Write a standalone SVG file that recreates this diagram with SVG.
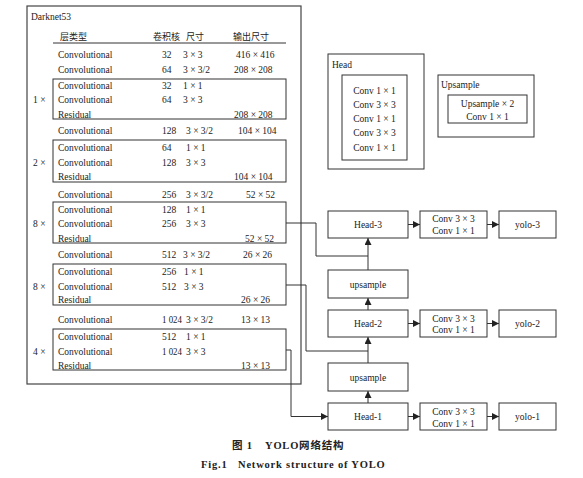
<svg xmlns="http://www.w3.org/2000/svg" width="583" height="478" viewBox="0 0 583 478">
<defs>
<marker id="arr" markerWidth="7" markerHeight="7" refX="7" refY="3.5" orient="auto" markerUnits="userSpaceOnUse"><path d="M0,0 L7,3.5 L0,7 z" fill="#222"/></marker>
<style>
text{font-family:"Liberation Serif","Noto Sans CJK SC",serif;font-size:9.5px;fill:#222;}
.c{text-anchor:middle;}
.zh{font-family:"Noto Sans CJK SC",sans-serif;font-size:9px;}
.box{fill:#fff;stroke:#333;stroke-width:1;}
.blk{fill:none;stroke:#333;stroke-width:1;}
.ln{fill:none;stroke:#333;stroke-width:1;}
.cap{font-weight:bold;font-size:10.5px;letter-spacing:0.8px;}
</style>
</defs>
<rect width="583" height="478" fill="#fff"/>

<g id="darknet53">
<rect x="27" y="6" width="274" height="378" fill="none" stroke="#444" stroke-width="1.2"/>
<text x="31" y="19.5">Darknet53</text>
<text class="zh" x="60" y="39.5">层类型</text>
<text class="zh" x="153" y="39.5">卷积核</text>
<text class="zh" x="186" y="39.5">尺寸</text>
<text class="zh" x="233" y="39.5">输出尺寸</text>
<line x1="53" y1="43" x2="286" y2="43" class="ln"/>

<text x="58" y="57.5">Convolutional</text><text x="162" y="57.5">32</text><text x="183" y="57.5">3 × 3</text><text x="236" y="57.5">416 × 416</text>
<text x="58" y="72.5">Convolutional</text><text x="162" y="72.5">64</text><text x="183" y="72.5">3 × 3/2</text><text x="234" y="72.5">208 × 208</text>

<rect class="blk" x="53" y="79" width="233" height="40"/>
<text x="33" y="102.5">1 ×</text>
<text x="58" y="88.5">Convolutional</text><text x="162" y="88.5">32</text><text x="183" y="88.5">1 × 1</text>
<text x="58" y="102.5">Convolutional</text><text x="162" y="102.5">64</text><text x="183" y="102.5">3 × 3</text>
<text x="58" y="117.5">Residual</text><text x="234" y="117.5">208 × 208</text>

<text x="58" y="133.5">Convolutional</text><text x="162" y="133.5">128</text><text x="186" y="133.5">3 × 3/2</text><text x="238" y="133.5">104 × 104</text>

<rect class="blk" x="53" y="140" width="233" height="42"/>
<text x="33" y="165.5">2 ×</text>
<text x="58" y="150.5">Convolutional</text><text x="162" y="150.5">64</text><text x="186" y="150.5">1 × 1</text>
<text x="58" y="165.5">Convolutional</text><text x="162" y="165.5">128</text><text x="186" y="165.5">3 × 3</text>
<text x="58" y="179.5">Residual</text><text x="234" y="179.5">104 × 104</text>

<text x="58" y="197.5">Convolutional</text><text x="162" y="197.5">256</text><text x="186" y="197.5">3 × 3/2</text><text x="246" y="197.5">52 × 52</text>

<rect class="blk" x="53" y="202" width="233" height="41"/>
<text x="33" y="226.5">8 ×</text>
<text x="58" y="212.5">Convolutional</text><text x="162" y="212.5">128</text><text x="186" y="212.5">1 × 1</text>
<text x="58" y="226.5">Convolutional</text><text x="162" y="226.5">256</text><text x="186" y="226.5">3 × 3</text>
<text x="58" y="241.5">Residual</text><text x="245" y="241.5">52 × 52</text>

<text x="58" y="257.5">Convolutional</text><text x="162" y="257.5">512</text><text x="183" y="257.5">3 × 3/2</text><text x="243" y="257.5">26 × 26</text>

<rect class="blk" x="53" y="264" width="233" height="41"/>
<text x="33" y="289.5">8 ×</text>
<text x="58" y="274.5">Convolutional</text><text x="162" y="274.5">256</text><text x="184" y="274.5">1 × 1</text>
<text x="58" y="289.5">Convolutional</text><text x="162" y="289.5">512</text><text x="184" y="289.5">3 × 3</text>
<text x="58" y="302.5">Residual</text><text x="241" y="302.5">26 × 26</text>

<text x="58" y="322.5">Convolutional</text><text x="162" y="322.5" textLength="20" lengthAdjust="spacingAndGlyphs">1 024</text><text x="186" y="322.5">3 × 3/2</text><text x="241" y="322.5">13 × 13</text>

<rect class="blk" x="53" y="329" width="233" height="41"/>
<text x="33" y="354.5">4 ×</text>
<text x="58" y="339.5">Convolutional</text><text x="162" y="339.5">512</text><text x="186" y="339.5">1 × 1</text>
<text x="58" y="354.5">Convolutional</text><text x="162" y="354.5" textLength="20" lengthAdjust="spacingAndGlyphs">1 024</text><text x="186" y="354.5">3 × 3</text>
<text x="58" y="368.5">Residual</text><text x="241" y="368.5">13 × 13</text>
</g>

<g id="legend-head">
<rect class="box" x="328" y="54" width="96" height="115"/>
<text x="332" y="67.5">Head</text>
<rect class="box" x="342" y="75" width="65" height="85"/>
<text class="c" x="374.5" y="93.5">Conv 1 × 1</text>
<text class="c" x="374.5" y="107.5">Conv 3 × 3</text>
<text class="c" x="374.5" y="122">Conv 1 × 1</text>
<text class="c" x="374.5" y="136">Conv 3 × 3</text>
<text class="c" x="374.5" y="150.5">Conv 1 × 1</text>
</g>

<g id="legend-upsample">
<rect class="box" x="438" y="75" width="96" height="62"/>
<text x="441" y="87.5">Upsample</text>
<rect class="box" x="448" y="95" width="79" height="28"/>
<text class="c" x="487.5" y="106.5">Upsample  × 2</text>
<text class="c" x="487.5" y="119.5">Conv 1 × 1</text>
</g>

<g id="connectors">
<polyline class="ln" points="286,223 316,223 316,256 368,256"/>
<polyline class="ln" points="286,285 306,285 306,351 368,351"/>
<polyline class="ln" points="286,350 291,350 291,416.5 328,416.5" marker-end="url(#arr)"/>
<line class="ln" x1="368" y1="270" x2="368" y2="238" marker-end="url(#arr)"/>
<line class="ln" x1="368" y1="310" x2="368" y2="298" marker-end="url(#arr)"/>
<line class="ln" x1="368" y1="363" x2="368" y2="337" marker-end="url(#arr)"/>
<line class="ln" x1="368" y1="403" x2="368" y2="391" marker-end="url(#arr)"/>
<line class="ln" x1="408" y1="224.5" x2="420" y2="224.5" marker-end="url(#arr)"/>
<line class="ln" x1="487" y1="224.5" x2="499" y2="224.5" marker-end="url(#arr)"/>
<line class="ln" x1="408" y1="323.5" x2="420" y2="323.5" marker-end="url(#arr)"/>
<line class="ln" x1="487" y1="323.5" x2="499" y2="323.5" marker-end="url(#arr)"/>
<line class="ln" x1="408" y1="416.5" x2="420" y2="416.5" marker-end="url(#arr)"/>
<line class="ln" x1="487" y1="416.5" x2="499" y2="416.5" marker-end="url(#arr)"/>
</g>

<g id="head-3"><rect class="box" x="328" y="211" width="80" height="27"/><text class="c" x="368" y="228">Head-3</text></g>
<g id="conv-3"><rect class="box" x="420" y="211" width="67" height="27"/><text class="c" x="453.5" y="221.5">Conv 3 × 3</text><text class="c" x="453.5" y="233.5">Conv 1 × 1</text></g>
<g id="yolo-3"><rect class="box" x="499" y="211" width="57" height="27"/><text class="c" x="527.5" y="228">yolo-3</text></g>

<g id="upsample-2"><rect class="box" x="328" y="270" width="80" height="28"/><text class="c" x="368" y="287.5">upsample</text></g>

<g id="head-2"><rect class="box" x="328" y="310" width="80" height="27"/><text class="c" x="368" y="327">Head-2</text></g>
<g id="conv-2"><rect class="box" x="420" y="310" width="67" height="27"/><text class="c" x="453.5" y="321.5">Conv 3 × 3</text><text class="c" x="453.5" y="332.5">Conv 1 × 1</text></g>
<g id="yolo-2"><rect class="box" x="499" y="310" width="57" height="27"/><text class="c" x="527.5" y="327">yolo-2</text></g>

<g id="upsample-1"><rect class="box" x="328" y="363" width="80" height="28"/><text class="c" x="368" y="380.5">upsample</text></g>

<g id="head-1"><rect class="box" x="328" y="403" width="80" height="27"/><text class="c" x="368" y="420">Head-1</text></g>
<g id="conv-1"><rect class="box" x="420" y="403" width="67" height="27"/><text class="c" x="453.5" y="415">Conv 3 × 3</text><text class="c" x="453.5" y="426.5">Conv 1 × 1</text></g>
<g id="yolo-1"><rect class="box" x="499" y="403" width="57" height="27"/><text class="c" x="527.5" y="420">yolo-1</text></g>

<g id="caption">
<text class="cap" x="232" y="449">图 1</text>
<text class="cap" x="265" y="449">YOLO网络结构</text>
<text class="cap" x="201" y="468">Fig.1</text>
<text class="cap" x="238" y="468">Network structure of YOLO</text>
</g>
</svg>
